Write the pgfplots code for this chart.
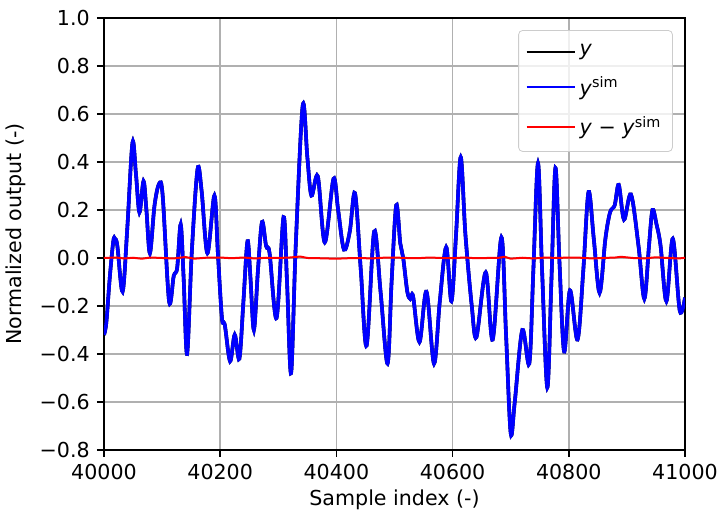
\documentclass[border=0pt]{standalone}
\usepackage{fontspec}
\setmainfont{DejaVu Sans}
\usepackage{pgfplots}
\usepackage{pgfplotstable}
\pgfplotsset{compat=1.18}

\pgfplotstableread{
x y
40000 -0.32
40004 -0.27
40010 -0.08
40016 0.07
40019 0.08
40023 0.05
40032 -0.14
40040 0.12
40049 0.48
40055 0.35
40061 0.19
40068 0.32
40073 0.20
40079 0.02
40087 0.22
40095 0.31
40101 0.26
40112 -0.18
40120 -0.075
40126 -0.04
40132 0.14
40137 -0.08
40143 -0.40
40151 0.02
40161 0.37
40168 0.28
40178 0.02
40190 0.26
40196 0.02
40203 -0.25
40208 -0.28
40217 -0.43
40225 -0.32
40233 -0.42
40240 -0.18
40247 0.07
40252 -0.08
40258 -0.30
40265 -0.05
40272 0.15
40279 0.05
40285 0.02
40297 -0.25
40309 0.17
40315 -0.10
40322 -0.48
40330 0.05
40342 0.635
40350 0.42
40357 0.26
40368 0.34
40380 0.065
40395 0.33
40403 0.20
40413 0.035
40423 0.11
40432 0.27
40442 -0.05
40452 -0.365
40465 0.11
40476 -0.14
40488 -0.44
40495 -0.10
40503 0.22
40510 0.06
40515 0.0
40522 -0.14
40527 -0.17
40532 -0.16
40543 -0.35
40555 -0.14
40568 -0.44
40578 -0.18
40589 0.045
40598 -0.18
40606 0.10
40614 0.42
40622 0.10
40633 -0.20
40641 -0.33
40657 -0.06
40669 -0.34
40684 0.086
40692 -0.32
40700 -0.73
40707 -0.60
40720 -0.30
40732 -0.44
40739 -0.05
40747 0.395
40754 -0.05
40763 -0.54
40770 -0.10
40777 0.375
40784 -0.02
40792 -0.39
40802 -0.135
40815 -0.34
40825 -0.05
40834 0.275
40843 0.08
40853 -0.145
40863 0.08
40871 0.19
40879 0.22
40886 0.305
40895 0.16
40907 0.265
40920 0.05
40930 -0.17
40938 0.05
40944 0.20
40951 0.14
40958 0.05
40968 -0.18
40979 0.08
40991 -0.22
41000 -0.165
}\ysim

\pgfplotstableread{
x e
40000 0.000
40020 0.002
40035 -0.002
40050 0.001
40065 -0.003
40080 0.002
40100 0.000
40120 -0.002
40140 0.004
40155 -0.003
40175 0.001
40200 0.002
40220 -0.001
40240 0.002
40260 -0.002
40280 0.001
40300 0.000
40320 0.002
40338 0.006
40350 0.000
40370 -0.001
40400 -0.003
40420 -0.001
40440 0.000
40460 -0.002
40480 0.001
40500 0.002
40520 0.000
40540 -0.001
40560 0.002
40580 0.000
40600 -0.001
40620 0.002
40640 -0.001
40660 0.000
40680 0.001
40690 0.005
40700 -0.003
40720 0.001
40740 -0.002
40760 0.002
40780 0.000
40800 0.002
40820 0.001
40840 -0.002
40860 0.000
40880 0.002
40890 0.005
40910 0.000
40930 -0.002
40950 0.003
40970 0.000
40990 -0.002
41000 0.001
}\yerr

\begin{document}
\fontsize{10.3}{12.4}\selectfont
\begin{tikzpicture}
\begin{axis}[
    name=ax,
    scale only axis,
    width=290.5pt,
    height=216pt,
    xmin=40000, xmax=41000,
    ymin=-0.8, ymax=1.0,
    scaled x ticks=false,
    xtick={40000,40200,40400,40600,40800,41000},
    xticklabels={40000,40200,40400,40600,40800,41000},
    ytick={-0.8,-0.6,-0.4,-0.2,0,0.2,0.4,0.6,0.8,1.0},
    yticklabels={−0.8,−0.6,−0.4,−0.2,0.0,0.2,0.4,0.6,0.8,1.0},
    tick pos=left,
    tick align=outside,
    major tick length=3.5pt,
    tick style={line width=0.8pt, black},
    axis line style={line width=0.8pt},
    grid=major,
    grid style={line width=0.8pt, black!31},
    xlabel={Sample index (-)},
    ylabel={Normalized output (-)},
    xlabel style={yshift=2pt},
    legend cell align=left,
    legend style={at={(0.979,0.972)}, anchor=north east,
        draw=black!20, rounded corners=2pt, fill=white, fill opacity=0.8,
        text opacity=1, row sep=5pt, inner xsep=3.5pt, inner ysep=5pt},
    legend image code/.code={\draw[#1, line width=1pt] (0pt,0pt) -- (24pt,0pt);},
]
\addplot[black, line width=1.8pt, smooth, tension=0.55] table[x=x, y=y] {\ysim};
\addlegendentry{\textit{y}}
\addplot[blue, line width=1.8pt, smooth, tension=0.55] table[x=x, y=y] {\ysim};
\addlegendentry{\textit{y}\textsuperscript{sim}}
\addplot[red, line width=1pt] table[x=x, y=e] {\yerr};
\addlegendentry{\textit{y} − \textit{y}\textsuperscript{sim}}
\end{axis}
\pgfresetboundingbox
\path[use as bounding box] ([xshift=-52pt,yshift=-30.5pt]ax.south west) rectangle ([xshift=19.5pt,yshift=9pt]ax.north east);
\end{tikzpicture}
\end{document}
